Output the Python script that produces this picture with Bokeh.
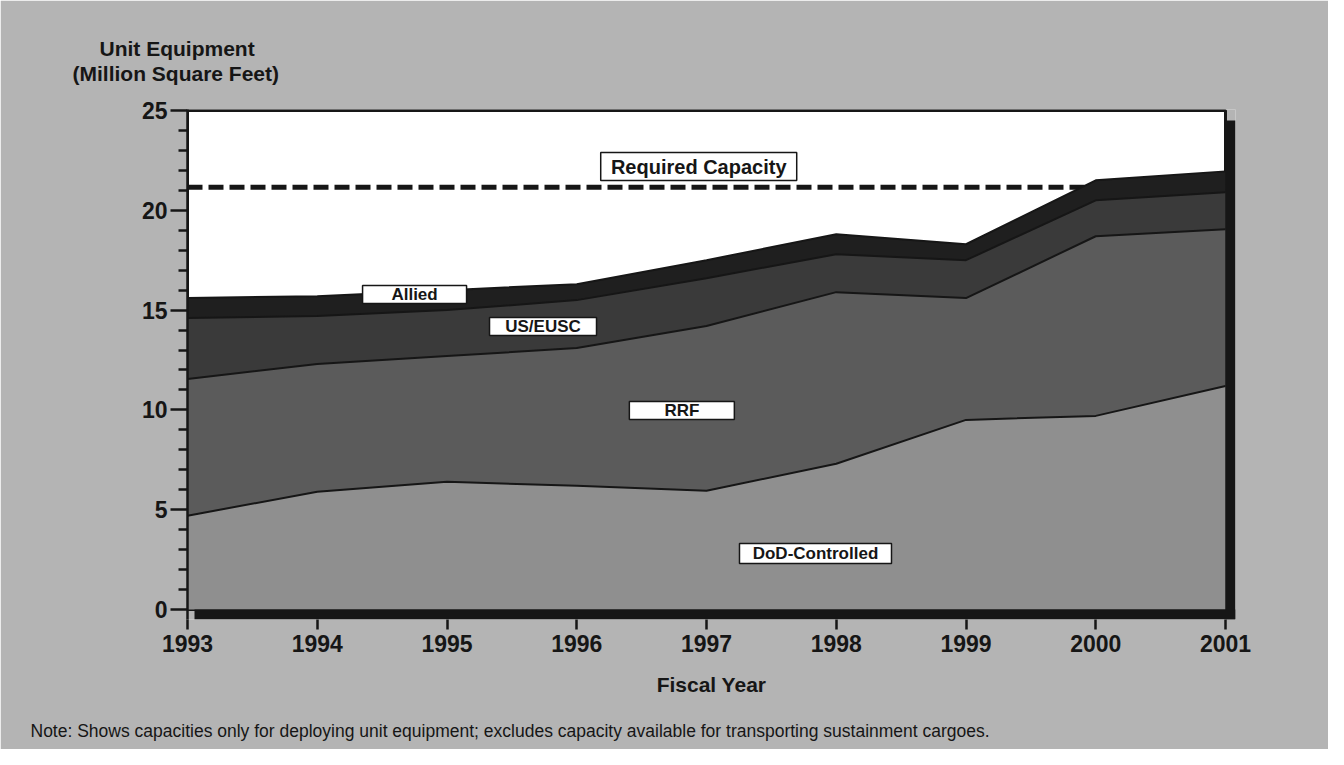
from bokeh.plotting import figure
from bokeh.models import ColumnDataSource, Range1d, FixedTicker, Title, LinearAxis
from bokeh.core.properties import value
from bokeh.embed import file_html
from bokeh.resources import INLINE

# ---------------- data ----------------
years = [1993, 1994, 1995, 1996, 1997, 1998, 1999, 2000, 2001]
dod_controlled = [4.7, 5.9, 6.4, 6.2, 5.95, 7.3, 9.5, 9.7, 11.2]
rrf = [6.85, 6.4, 6.3, 6.9, 8.25, 8.6, 6.1, 9.0, 7.85]
us_eusc = [3.05, 2.4, 2.3, 2.4, 2.4, 1.9, 1.9, 1.8, 1.85]
allied = [1.0, 1.0, 1.0, 0.8, 0.9, 1.0, 0.8, 1.0, 1.05]
required_capacity = 21.15
series_names = ["DoD-Controlled", "RRF", "US/EUSC", "Allied"]
y_ticks = [0, 5, 10, 15, 20, 25]

# ---------------- styles / layout ----------------
BG = "#b4b4b4"
COLORS = ["#8f8f8f", "#5b5b5b", "#3a3a3a", "#1f1f1f"]
INK = "#161616"
FONT = "Liberation Sans"

W, H = 1328, 749
left_px, right_px = 187, 93
top_px = 109
px_per_year = 129.75
px_per_unit = 19.96
shadow_px = 10

x0, x1 = years[0], years[-1]
frame_w = W - left_px - right_px
x_end = x0 + frame_w / px_per_year
y_start = -shadow_px / px_per_unit
y_end = 25.05
frame_h = (y_end - y_start) * px_per_unit
bottom_px = int(round(H - top_px - frame_h))

p = figure(width=W, height=H, output_backend="svg", toolbar_location=None,
           x_range=Range1d(x0, x_end), y_range=Range1d(y_start, y_end),
           min_border_left=left_px, min_border_right=right_px,
           min_border_top=top_px, min_border_bottom=bottom_px)
p.background_fill_color = BG
p.border_fill_color = BG
p.outline_line_color = None
p.grid.visible = False

# white plotting face
p.quad(left=[x0], right=[x1], bottom=[0], top=[25], fill_color="white",
       line_color=INK, line_width=3)

# required capacity dashed line (drawn beneath the areas)
p.line([x0, x1], [required_capacity, required_capacity], line_color=INK,
       line_width=5, line_dash="15 6")

src = ColumnDataSource(dict(years=years, dod=dod_controlled, rrf=rrf,
                            us=us_eusc, allied=allied))
keys = ["dod", "rrf", "us", "allied"]
p.varea_stack(stackers=keys, x="years", color=COLORS, source=src)

# boundary lines
cum = [0.0] * len(years)
for arr in [dod_controlled, rrf, us_eusc, allied]:
    cum = [c + v for c, v in zip(cum, arr)]
    p.line(years, cum, line_color=INK, line_width=2)

# 3-D shadow of the frame
dx = shadow_px / px_per_year
dy = shadow_px / px_per_unit
p.quad(left=[x1], right=[x_end], bottom=[y_start], top=[25 - dy],
       fill_color=INK, line_color=None)
p.quad(left=[x0 + 0.7 * dx], right=[x_end], bottom=[y_start], top=[0],
       fill_color=INK, line_color=None)

# ---------------- axes ----------------
ya = p.yaxis[0]
ya.ticker = FixedTicker(ticks=y_ticks,
                        minor_ticks=[v for v in range(0, 26) if v % 5 != 0])
ya.axis_line_color = INK
ya.axis_line_width = 2.5
ya.major_tick_line_color = INK
ya.major_tick_line_width = 2.5
ya.minor_tick_line_color = INK
ya.minor_tick_line_width = 2.5
ya.major_tick_out = 17
ya.major_tick_in = 0
ya.minor_tick_out = 9
ya.minor_tick_in = 0
ya.major_label_standoff = 3
ya.major_label_text_font = FONT
ya.major_label_text_font_style = "bold"
ya.major_label_text_font_size = "23px"
ya.major_label_text_color = INK

xa = p.xaxis[0]
xa.ticker = FixedTicker(ticks=years, minor_ticks=[])
xa.axis_line_color = None
xa.major_tick_line_color = INK
xa.major_tick_line_width = 2.5
xa.major_tick_out = 10
xa.major_tick_in = 0
xa.major_label_standoff = 5
xa.major_label_text_font = FONT
xa.major_label_text_font_style = "bold"
xa.major_label_text_font_size = "23px"
xa.major_label_text_color = INK
xa.axis_label = "Fiscal Year"
xa.axis_label_standoff = 18
xa.axis_label_text_font = FONT
xa.axis_label_text_font_style = "bold"
xa.axis_label_text_font_size = "21px"
xa.axis_label_text_color = INK

# ---------------- in-chart labels ----------------
box_text = ["Required Capacity", "Allied", "US/EUSC", "RRF", "DoD-Controlled"]
box_x = [1996.94, 1994.75, 1995.74, 1996.81, 1997.84]
box_y = [22.19, 15.78, 14.18, 9.97, 2.81]
box_w = [196, 104, 107, 105, 152]
box_h = [28, 18, 18, 18, 20]
box_fs = ["20px", "17px", "17px", "17px", "17px"]

bsrc = ColumnDataSource(dict(x=box_x, y=box_y, w=box_w, h=box_h,
                             t=box_text, fs=box_fs))
p.rect(x="x", y="y", width="w", height="h", width_units="screen",
       height_units="screen", fill_color="white", line_color=INK,
       line_width=1.5, source=bsrc)
p.text(x="x", y="y", text="t", text_font=value(FONT), text_font_style="bold",
       text_font_size="fs", text_align="center", text_baseline="middle",
       text_color=INK, source=bsrc)


# ---------------- titles / notes ----------------
def gap(px):
    """Invisible axis with one unlabeled tick: reserves vertical space only."""
    return LinearAxis(ticker=FixedTicker(ticks=[x0], minor_ticks=[]),
                      major_label_overrides={x0: ""},
                      axis_line_color=None, major_tick_line_color=None,
                      minor_tick_line_color=None, major_tick_out=px,
                      major_tick_in=0, minor_tick_out=0, minor_tick_in=0,
                      major_label_standoff=0,
                      major_label_text_font_size="1px")


p.add_layout(gap(25), "above")
p.add_layout(Title(text="(Million Square Feet)", align="left", offset=-115,
                   standoff=0, text_font=FONT, text_font_style="bold",
                   text_font_size="21px", text_color=INK), "above")
p.add_layout(Title(text="Unit Equipment", align="left", offset=-88,
                   standoff=0, text_font=FONT, text_font_style="bold",
                   text_font_size="21px", text_color=INK), "above")

p.add_layout(gap(20), "below")
p.add_layout(Title(text="Note: Shows capacities only for deploying unit equipment; "
                        "excludes capacity available for transporting sustainment cargoes.",
                   align="left", offset=-157, standoff=0,
                   text_font=FONT, text_font_style="normal",
                   text_font_size="17.5px", text_color=INK), "below")

open("out.html", "w").write(file_html(p, INLINE))
